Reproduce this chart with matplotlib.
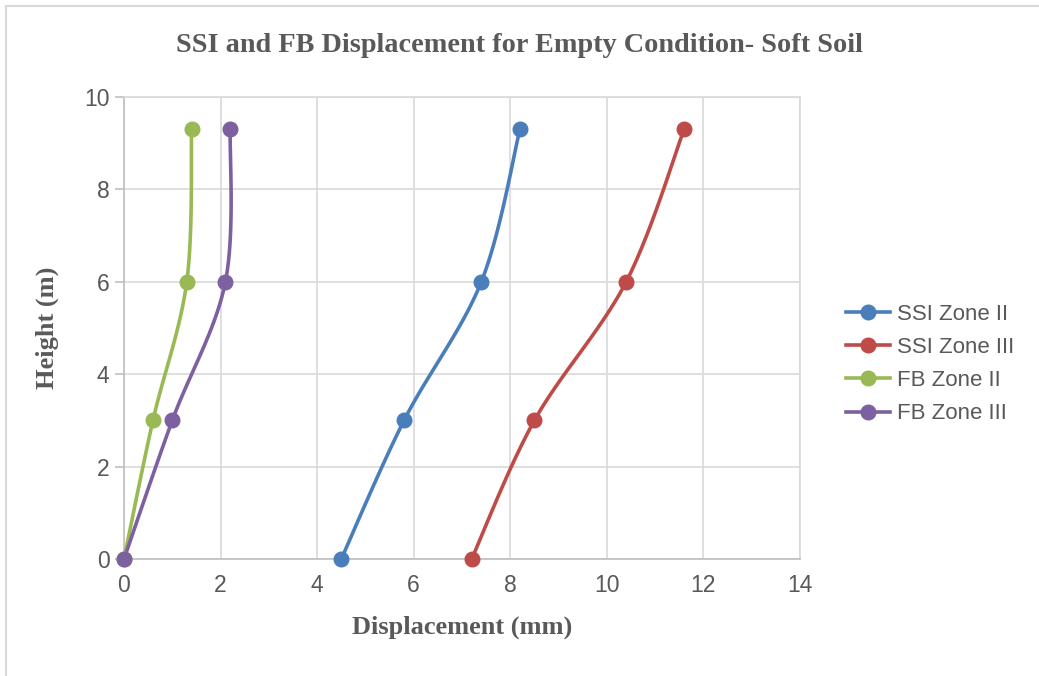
import numpy as np
import matplotlib
matplotlib.use("Agg")
import matplotlib.pyplot as plt
from matplotlib.patches import Rectangle

# Height levels (m)
heights = [0, 3, 6, 9.3]

# Displacements (mm)
ssi_zone2 = [4.5, 5.8, 7.4, 8.2]
ssi_zone3 = [7.2, 8.5, 10.4, 11.6]
fb_zone2 = [0, 0.6, 1.3, 1.4]
fb_zone3 = [0, 1.0, 2.1, 2.2]

series_names = ["SSI Zone II", "SSI Zone III", "FB Zone II", "FB Zone III"]
series_colors = ["#4A7EBB", "#BE4B48", "#98B954", "#7D60A0"]


def smooth(x, y, n=40):
    # bezier smoothing through the points (spreadsheet style)
    p = np.column_stack([x, y]).astype(float)
    ext = np.vstack([p[0], p, p[-1]])
    out = []
    t = np.linspace(0, 1, n)[:, None]
    for i in range(len(p) - 1):
        p0 = ext[i + 1]
        p3 = ext[i + 2]
        c1 = p0 + (ext[i + 2] - ext[i]) / 6
        c2 = p3 - (ext[i + 3] - ext[i + 1]) / 6
        seg = ((1 - t) ** 3 * p0 + 3 * (1 - t) ** 2 * t * c1
               + 3 * (1 - t) * t ** 2 * c2 + t ** 3 * p3)
        out.append(seg)
    out = np.vstack(out)
    return out[:, 0], out[:, 1]


fig = plt.figure(figsize=(10.39, 6.76), dpi=100)
ax = fig.add_axes([124 / 1039, 1 - 559 / 676, (800 - 124) / 1039, (559 - 97) / 676])

txt = "#595959"
grid_c = "#D9D9D9"
sans = "Liberation Sans"
serif = "Liberation Serif"

for vals, name, col in zip([ssi_zone2, ssi_zone3, fb_zone2, fb_zone3], series_names, series_colors):
    sx, sy = smooth(vals, heights)
    ax.plot(sx, sy, color=col, lw=2.6, solid_capstyle="round", zorder=3, clip_on=False)
    ax.plot(vals, heights, ls="none", marker="o", ms=10.5, color=col, zorder=4, clip_on=False)
    ax.plot([], [], color=col, lw=2.6, marker="o", ms=10.5, label=name)

ax.set_xlim(0, 14)
ax.set_ylim(0, 10)
ax.set_xticks(range(0, 15, 2))
ax.set_yticks(range(0, 11, 2))
ax.grid(True, color=grid_c, lw=1.2)
ax.set_axisbelow(True)
for s in ax.spines.values():
    s.set_color(grid_c)
    s.set_linewidth(1.2)
ax.spines["left"].set_color("#BFBFBF")
ax.spines["bottom"].set_color("#BFBFBF")
ax.tick_params(axis="y", length=6.5, color="#BFBFBF", width=1.2, labelsize=16.5,
               labelcolor=txt, pad=4)
ax.tick_params(axis="x", length=0, labelsize=16.5, labelcolor=txt, pad=11)
for lab in ax.get_xticklabels() + ax.get_yticklabels():
    lab.set_fontfamily(sans)

ax.set_xlabel("Displacement (mm)", fontfamily=serif, fontweight="bold",
              fontsize=19, color=txt, labelpad=13)
ax.set_ylabel("Height (m)", fontfamily=serif, fontweight="bold",
              fontsize=19, color=txt, labelpad=18)
fig.text(0.5, 1 - 45 / 676, "SSI and FB Displacement for Empty Condition- Soft Soil",
         ha="center", va="center", fontfamily=serif, fontweight="bold",
         fontsize=20.3, color=txt)

leg = fig.legend(loc="center left", bbox_to_anchor=(826 / 1039, 1 - 364 / 676),
                 frameon=False, prop={"family": sans, "size": 16}, labelcolor=txt,
                 handlelength=2.0, labelspacing=0.55, handletextpad=0.3)

# outer chart frame
fig.patches.append(Rectangle((6 / 1039, -0.1), 1.2, 1 - 6 / 676 + 0.1, transform=fig.transFigure,
                             fill=False, edgecolor="#D9D9D9", lw=1.5))

fig.savefig("out.png", dpi=100)
